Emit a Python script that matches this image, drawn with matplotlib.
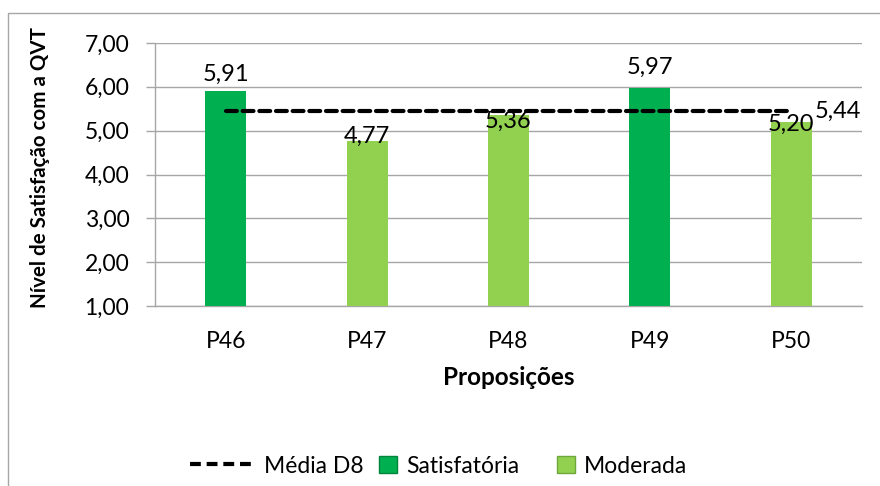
import matplotlib
matplotlib.use("Agg")
import matplotlib.pyplot as plt
from matplotlib.lines import Line2D
from matplotlib.patches import Patch, Rectangle

plt.rcParams['font.family'] = ['Lato', 'DejaVu Sans']

categories = ["P46", "P47", "P48", "P49", "P50"]
values = [5.91, 4.77, 5.36, 5.97, 5.20]
groups = ["Satisfatória", "Moderada", "Moderada", "Satisfatória", "Moderada"]
mean_value = 5.44
mean_label = "Média D8"
y_ticks = [1, 2, 3, 4, 5, 6, 7]

colors = {"Satisfatória": "#00B050", "Moderada": "#92D050"}
label_offsets_px = [16, 4, -6, 21, -2]

FS = 16.5
W, H, DPI = 880, 486, 100
fig = plt.figure(figsize=(W / DPI, H / DPI), dpi=DPI)
ax = fig.add_axes([155 / W, 1 - 306 / H, (862 - 155) / W, (306 - 43) / H])

x = list(range(len(categories)))
ax.bar(x, [v - 1 for v in values], bottom=1, width=0.29,
       color=[colors[g] for g in groups], zorder=3)

dash = (0, (2.6, 1.4))
ax.plot([x[0], x[-1]], [mean_value, mean_value], color="black", lw=3,
        linestyle=dash, zorder=4, dash_capstyle="round")

def fmt(v):
    return f"{v:.2f}".replace(".", ",")

for xi, v, off in zip(x, values, label_offsets_px):
    ax.annotate(fmt(v), (xi, v), xytext=(0, off * 72 / DPI), textcoords="offset points",
                ha="center", va="center", fontsize=FS + 0.5, zorder=5)

ax.annotate(fmt(mean_value), (x[-1], mean_value), xytext=(23 * 72 / DPI, 0),
            textcoords="offset points", ha="left", va="center", fontsize=FS + 0.5, zorder=5)

ax.set_xlim(-0.5, len(categories) - 0.5)
ax.set_ylim(1, 7)
ax.set_yticks(y_ticks)
ax.set_yticklabels([fmt(t) for t in y_ticks], fontsize=FS)
ax.set_xticks(x)
ax.set_xticklabels(categories, fontsize=FS)
ax.tick_params(axis="x", length=0, pad=18)
ax.tick_params(axis="y", length=6.5, width=1, color="#A6A6A6", pad=12)
ax.grid(axis="y", color="#A6A6A6", lw=1, zorder=0)
for s in ["top", "right"]:
    ax.spines[s].set_visible(False)
for s in ["left", "bottom"]:
    ax.spines[s].set_color("#A6A6A6")
    ax.spines[s].set_linewidth(1)

ax.set_xlabel("Proposições", fontsize=17.5, fontweight="bold", labelpad=10)
fig.text(40 / W, 1 - 168 / H, "Nível de Satisfação com a QVT", rotation=90,
         ha="center", va="center", fontsize=14.8, fontweight="bold")

leg1 = fig.legend([Line2D([0], [0], color="black", lw=3, linestyle=dash)], [mean_label],
                  loc="center left", bbox_to_anchor=(169 / W, 1 - 466 / H), frameon=False,
                  fontsize=FS, handlelength=2.85, handletextpad=0.4)
leg2 = fig.legend([Patch(facecolor=colors["Satisfatória"], edgecolor="#00843C"),
                   Patch(facecolor=colors["Moderada"], edgecolor="#6FA83A")],
                  ["Satisfatória", "Moderada"], loc="center left",
                  bbox_to_anchor=(358 / W, 1 - 466 / H), ncol=2, frameon=False,
                  fontsize=FS, handlelength=0.8, handleheight=0.8, handletextpad=0.4,
                  columnspacing=1.63)

fig.patches.append(Rectangle((8 / W, -0.1), 1.2, 1 - 13 / H + 0.1, transform=fig.transFigure,
                             fill=False, edgecolor="#A6A6A6", lw=1))

fig.savefig("out.png", dpi=DPI)
